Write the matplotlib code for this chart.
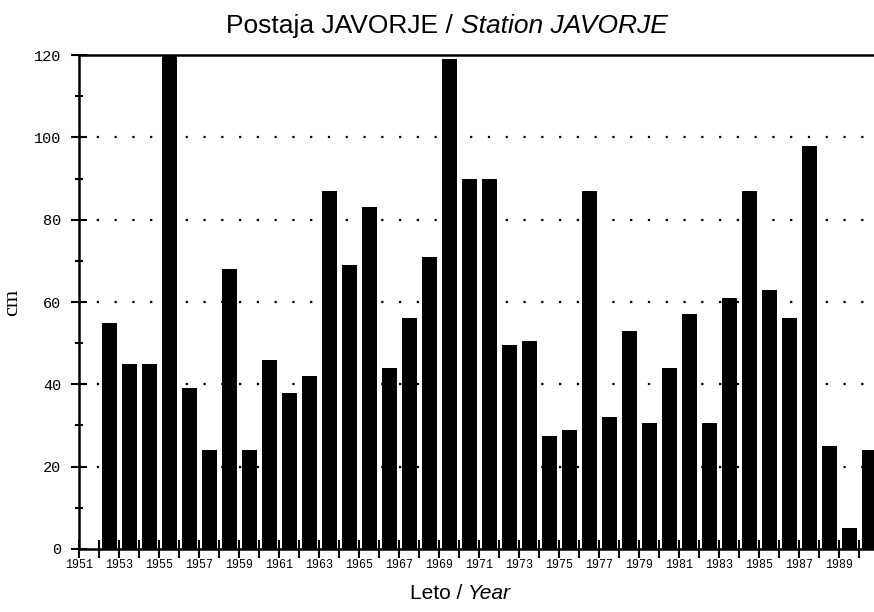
import matplotlib.pyplot as plt
from matplotlib.ticker import MultipleLocator

years = list(range(1952, 1991))
snow_cm = [55, 45, 45, 120, 39, 24, 68, 24, 46, 38,
           42, 87, 69, 83, 44, 56, 71, 119, 90, 90,
           49.5, 50.5, 27.5, 29, 87, 32, 53, 30.5, 44, 57,
           30.5, 61, 87, 63, 56, 98, 25, 5, 24]
year_labels = [str(y) if y % 2 == 1 else '' for y in range(1951, 1991)]

fig = plt.figure(figsize=(8.74, 6.12), dpi=100)
ax = fig.add_axes([0.0904, 0.103, 0.9096, 0.807])

ax.bar([y + 0.52 for y in years], snow_cm, width=0.76, color='black', zorder=3)

ax.set_xlim(1951, 1990.75)
ax.set_ylim(0, 120)
for v in [20, 40, 60, 80, 100]:
    ax.axhline(v, color='black', lw=1.6, linestyle=(0, (1, 7)), zorder=1)

ax.set_xticks(range(1951, 1991))
ax.set_xticklabels(year_labels, family='Liberation Mono', fontsize=8.4)
ax.yaxis.set_major_locator(MultipleLocator(20))
ax.yaxis.set_minor_locator(MultipleLocator(10))
ax.tick_params(axis='x', direction='inout', length=13, width=1.5, pad=1)
ax.tick_params(axis='y', which='major', direction='inout', length=11.5, width=1.5, pad=7, labelsize=11)
ax.tick_params(axis='y', which='minor', direction='inout', length=6, width=1.5)
for lab in ax.get_yticklabels():
    lab.set_family('Liberation Mono')

ax.spines['right'].set_visible(False)
for s in ['left', 'top', 'bottom']:
    ax.spines[s].set_linewidth(1.8)

ax.set_ylabel('cm', family='Liberation Serif', fontsize=16)
ax.yaxis.set_label_coords(-0.0717, 0.5)

# title and x label with italic English part
fig.canvas.draw()
r = fig.canvas.get_renderer()

def two_part(y, a, b, size, cx):
    t1 = fig.text(0.5, y, a, family='Liberation Sans', fontsize=size, ha='left', va='baseline')
    t2 = fig.text(0.5, y, b, family='Liberation Sans', fontsize=size, style='italic', ha='left', va='baseline')
    w1 = t1.get_window_extent(r).width
    w2 = t2.get_window_extent(r).width
    x0 = cx - (w1 + w2) / 2
    t1.set_x(x0 / fig.bbox.width)
    t2.set_x((x0 + w1) / fig.bbox.width)

two_part(1 - 33 / 612, 'Postaja JAVORJE / ', 'Station JAVORJE', 19, 447)
two_part(1 - 599 / 612, 'Leto / ', 'Year', 15, 460)

fig.savefig('out.png')
